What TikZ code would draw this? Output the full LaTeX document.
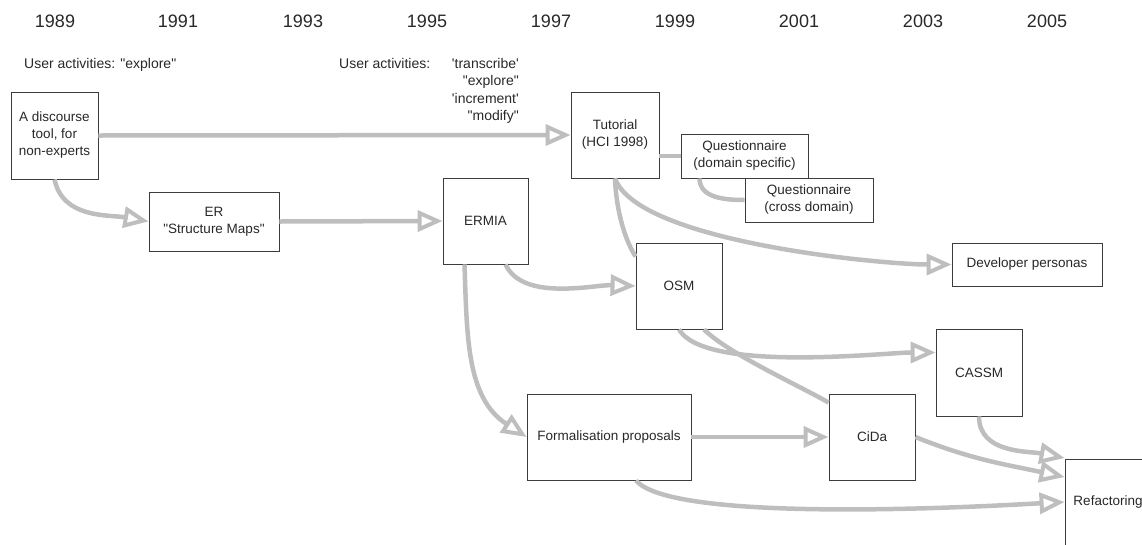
\documentclass[tikz,border=0pt]{standalone}
\usepackage{fontspec}
\setmainfont{Liberation Sans}
\usetikzlibrary{arrows.meta,positioning}
\definecolor{flowgray}{RGB}{190,190,190}
\definecolor{boxline}{RGB}{60,60,60}
\definecolor{inkgray}{RGB}{40,40,40}
\newcommand{\dq}{\textquotedbl}
\newcommand{\sq}{\textquotesingle}
\tikzset{
  box/.style={
    draw=boxline,
    line width=0.9pt,
    fill=white,
    align=center,
    inner sep=2pt,
    font=\fontsize{13.5}{17}\selectfont,
    text=inkgray
  },
  year/.style={
    font=\fontsize{18}{20}\selectfont,
    text=inkgray,
    inner sep=0pt
  },
  note/.style={
    font=\fontsize{14}{17.5}\selectfont,
    text=inkgray,
    inner sep=0pt
  },
  flow/.style={draw=flowgray,line width=4.5pt,-{Triangle[open,length=25pt,width=21pt,line width=4pt]}},
  link/.style={draw=flowgray,line width=4.5pt}
}
\begin{document}
\begin{tikzpicture}[x=1pt,y=1pt]
        \useasboundingbox (0,0) rectangle (1142,-544);

        % time line
        \foreach \yr/\xx in {1989/55,1991/178,1993/303,1995/427,1997/551,1999/675,2001/799,2003/923,2005/1047}
          \node[year] (y\yr) at (\xx,-21.5) {\yr};

        \node[note,anchor=base west] (uaold) at (24,-68) {User activities: \dq explore\dq};
        \node[note,anchor=base west] (uanew) at (339,-68) {User activities:};
        \node[note,anchor=base east,align=right] (ualist) at (519,-120.5) {\sq transcribe\sq\\\dq explore\dq\\\sq increment\sq\\\dq modify\dq};

        % boxes
        \node[box,minimum width=87pt,minimum height=87pt] (disc) at (54.5,-135.5) {A discourse\\tool, for\\non-experts};
        \node[box,minimum width=130pt,minimum height=59pt] (er) at (214,-221.5) {ER\\\dq Structure Maps\dq};
        \node[box,minimum width=85pt,minimum height=86pt] (ermia) at (485.5,-221) {ERMIA};
        \node[box,minimum width=88pt,minimum height=86pt] (tut) at (615,-135) {Tutorial\\(HCI 1998)};
        \node[box,minimum width=127pt,minimum height=44pt] (qds) at (744.5,-156) {Questionnaire\\(domain specific)};
        \node[box,minimum width=128pt,minimum height=44pt] (qcd) at (809,-200) {Questionnaire\\(cross domain)};
        \node[box,minimum width=150pt,minimum height=43pt] (dev) at (1027,-264.5) {Developer personas};
        \node[box,minimum width=86pt,minimum height=86pt] (osm) at (679,-286) {OSM};
        \node[box,minimum width=86pt,minimum height=87pt] (cassm) at (979,-372.5) {CASSM};
        \node[box,minimum width=164pt,minimum height=86pt] (form) at (609,-437) {Formalisation proposals};
        \node[box,minimum width=86pt,minimum height=86pt] (cida) at (872,-437) {CiDa};
        \node[box,minimum width=86pt,minimum height=86pt] (refac) at (1108,-502) {Refactoring};

        % connectors
        \draw[flow] (disc.east) -- (tut.west);
        \draw[flow] (disc.south) to[out=-78,in=170] (er.west);
        \draw[flow] (er.east) -- (ermia.west);
        \draw[link] (tut.east |- qds.west) -- (qds.west);
        \draw[link] ([xshift=-45pt]qds.south) to[out=-90,in=180] (qcd.west);
        \draw[flow] (tut.south) to[out=-70,in=180,looseness=0.5] (dev.west);
        \draw[link] (tut.south) to[out=-88,in=122,looseness=0.8] ([yshift=-14pt]osm.north west);
        \draw[flow] ([xshift=20pt]ermia.south) to[out=-65,in=178,looseness=0.8] (osm.west);
        \draw[flow] ([xshift=-21pt]ermia.south) to[out=-88,in=147] (form.west);
        \draw[flow] (osm.south) to[out=-60,in=180,looseness=0.5] ([yshift=20pt]cassm.west);
        \draw[link] ([xshift=25pt]osm.south) to[out=-45,in=150,looseness=0.6] ([yshift=-9pt]cida.north west);
        \draw[flow] (form.east) -- (cida.west);
        \draw[flow] (cida.east) to[out=-22,in=168] ([yshift=25pt]refac.west);
        \draw[flow] (cassm.south) to[out=-90,in=169] ([yshift=44pt]refac.west);
        \draw[flow] ([xshift=27pt]form.south) to[out=-50,in=183,looseness=0.35] (refac.west);
\end{tikzpicture}
\end{document}
